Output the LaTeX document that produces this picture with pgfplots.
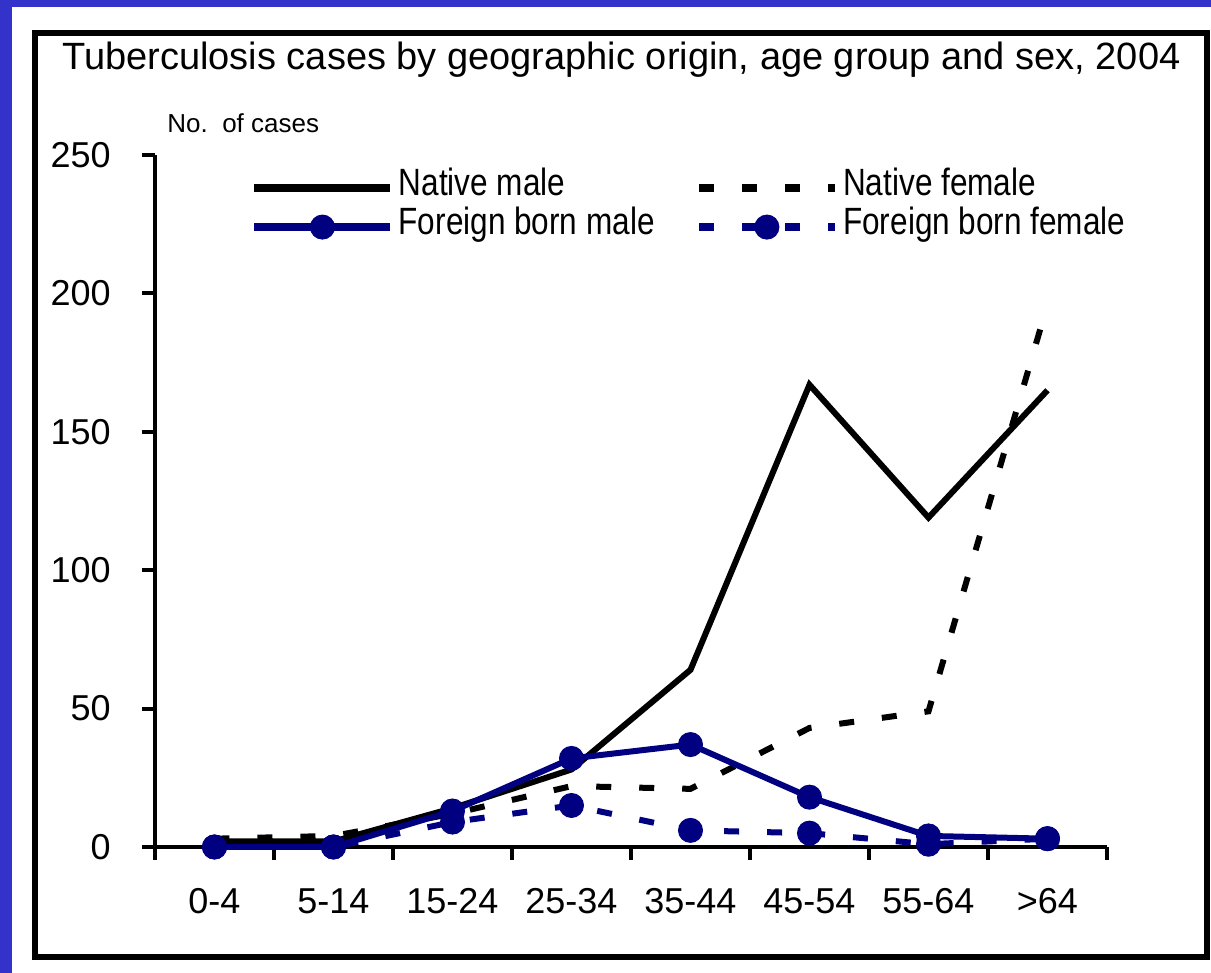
\documentclass[border=0pt]{standalone}
\usepackage{fontspec}
\setmainfont{Liberation Sans}
\newfontfamily\condfont[FakeStretch=0.83]{Liberation Sans}
\usepackage{pgfplots}
\pgfplotsset{compat=1.18}
\definecolor{bgblue}{RGB}{51,51,204}
\definecolor{navy}{RGB}{0,0,128}
\begin{document}
\begin{tikzpicture}
\fill[bgblue] (0,0) rectangle (605.5pt,486.5pt);
\fill[white] (6pt,0) rectangle (605.5pt,483pt);
\draw[black, line width=3pt] (17.5pt,8pt) rectangle (603.5pt,470pt);
\node[anchor=base west, inner sep=0pt, font=\fontsize{19}{22}\selectfont] at (31pt,451.5pt) {Tuberculosis cases by geographic origin, age group and sex, 2004};
\node[anchor=base west, inner sep=0pt, font=\fontsize{13}{15}\selectfont] at (83.5pt,420pt) {No.~~of cases};
\begin{axis}[
  at={(77.5pt,63pt)}, anchor=south west,
  scale only axis, width=476pt, height=346pt,
  xmin=-0.5, xmax=7.5, ymin=0, ymax=250,
  axis lines=left, axis line style={-, line width=2pt},
  clip=false,
  ytick={0,50,100,150,200,250},
  xtick={-0.5,0.5,1.5,2.5,3.5,4.5,5.5,6.5,7.5}, xticklabels={},
  extra x ticks={0,1,2,3,4,5,6,7},
  extra x tick labels={0-4,5-14,15-24,25-34,35-44,45-54,55-64,>64},
  extra x tick style={major tick length=0pt},
  tick align=outside, major tick length=6.5pt,
  every tick/.style={black, line width=2pt},
  tick label style={font=\fontsize{18}{20}\selectfont},
  /pgf/number format/assume math mode=true,
  yticklabel style={anchor=east, inner sep=0pt, xshift=-15.5pt},
  xticklabel style={anchor=north, inner sep=0pt, yshift=-20.5pt},
  legend columns=2,
  legend cell align=left,
  legend style={at={(rel axis cs:0.1,0.9653)}, anchor=north west, draw=none, fill=none,
    inner sep=0pt, outer sep=0pt, font=\condfont\fontsize{19}{22}\selectfont, row sep=9.2pt,
    nodes={inner sep=0pt, text height=0.8em, text depth=0.084em},
    /tikz/every odd column/.style={column sep=2pt},
    /tikz/every even column/.style={column sep=20pt}},
  legend image code/.code={\draw[mark repeat=2, mark phase=2, #1, line width=4.25pt] plot coordinates {(0pt,0pt)(34pt,0pt)(68pt,0pt)};},
]
\addplot[black, line width=3pt] coordinates {(0,2)(1,2)(2,14)(3,28)(4,64)(5,167)(6,119)(7,165)};
\addplot[black, line width=3pt, dash pattern=on 7.5pt off 14pt] coordinates {(0,3)(1,4)(2,12)(3,22)(4,21)(5,43)(6,49)(7,196)};
\addplot[navy, line width=3pt, mark=*, mark size=6pt, mark options={solid, line width=0.5pt}] coordinates {(0,0)(1,0)(2,13)(3,32)(4,37)(5,18)(6,4)(7,3)};
\addplot[navy, line width=3pt, dash pattern=on 7.5pt off 14pt, mark=*, mark size=6pt, mark options={solid, line width=0.5pt}] coordinates {(0,0)(1,0)(2,9)(3,15)(4,6)(5,5)(6,1)(7,3)};
\legend{Native male, Native female, Foreign born male, Foreign born female}
\end{axis}
\end{tikzpicture}
\end{document}
